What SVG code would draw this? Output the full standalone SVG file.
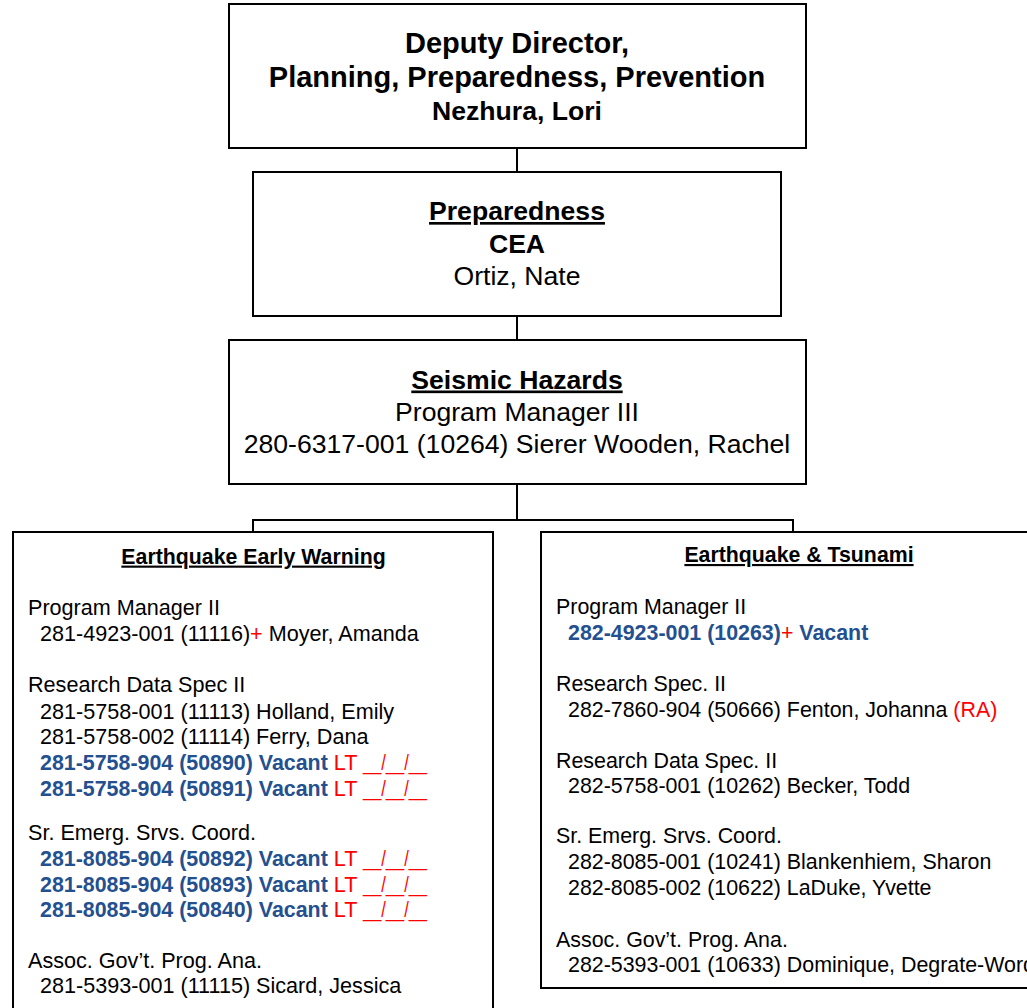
<svg xmlns="http://www.w3.org/2000/svg" width="1027" height="1008" viewBox="0 0 1027 1008">
<style>
  .box { fill: #ffffff; stroke: #000000; stroke-width: 2; }
  .conn { fill: none; stroke: #000000; stroke-width: 2; }
  text { font-family: "Liberation Sans", Arial, sans-serif; fill: #000000; }
  .big { font-size: 29px; font-weight: bold; text-anchor: middle; }
  .mid { font-size: 26.6px; text-anchor: middle; }
  .b { font-weight: bold; }
  .u { text-decoration: underline; }
  .sub { font-size: 21.6px; }
  .subr { font-size: 21.4px; }
  .title { font-size: 21.3px; font-weight: bold; text-decoration: underline; text-anchor: middle; }
  .blue { fill: #24508f; font-weight: bold; font-size: 21.4px; }
  .red { fill: #ff0000; font-weight: normal; }
</style>
<rect width="1027" height="1008" fill="#ffffff"/>
<g id="connectors">
  <line class="conn" x1="517" y1="148" x2="517" y2="172"/>
  <line class="conn" x1="517" y1="316" x2="517" y2="340"/>
  <line class="conn" x1="517" y1="484" x2="517" y2="520"/>
  <polyline class="conn" points="253,532 253,520 793,520 793,532"/>
</g>
<g id="node-deputy-director">
  <rect class="box" x="229" y="4" width="577" height="144"/>
  <text class="big" x="517" y="52.5">Deputy Director,</text>
  <text class="big" x="517" y="87">Planning, Preparedness, Prevention</text>
  <text class="mid b" x="517" y="120">Nezhura, Lori</text>
</g>
<g id="node-preparedness">
  <rect class="box" x="253" y="172" width="528" height="144"/>
  <text class="mid b u" x="517" y="220">Preparedness</text>
  <text class="mid b" x="517" y="252.5">CEA</text>
  <text class="mid" x="517" y="284.5">Ortiz, Nate</text>
</g>
<g id="node-seismic-hazards">
  <rect class="box" x="229" y="340" width="577" height="144"/>
  <text class="mid b u" x="517" y="388.5">Seismic Hazards</text>
  <text class="mid" x="517" y="420.5">Program Manager III</text>
  <text class="mid" x="517" y="452.5">280-6317-001 (10264) Sierer Wooden, Rachel</text>
</g>
<g id="node-earthquake-early-warning">
  <rect class="box" x="13" y="532" width="480" height="500"/>
  <text class="title" x="253.5" y="563.6">Earthquake Early Warning</text>
  <g class="sub">
    <text x="28" y="614.6">Program Manager II</text>
    <text x="40" y="640.6">281-4923-001 (11116)<tspan class="red">+</tspan> Moyer, Amanda</text>
    <text x="28" y="691.6">Research Data Spec II</text>
    <text x="40" y="718.6">281-5758-001 (11113) Holland, Emily</text>
    <text x="40" y="743.6">281-5758-002 (11114) Ferry, Dana</text>
    <text x="40" y="769.6"><tspan class="blue">281-5758-904 (50890) Vacant</tspan><tspan class="red"> LT </tspan><tspan class="red" textLength="64" lengthAdjust="spacingAndGlyphs">__/__/__</tspan></text>
    <text x="40" y="795.6"><tspan class="blue">281-5758-904 (50891) Vacant</tspan><tspan class="red"> LT </tspan><tspan class="red" textLength="64" lengthAdjust="spacingAndGlyphs">__/__/__</tspan></text>
    <text x="28" y="839.6">Sr. Emerg. Srvs. Coord.</text>
    <text x="40" y="865.6"><tspan class="blue">281-8085-904 (50892) Vacant</tspan><tspan class="red"> LT </tspan><tspan class="red" textLength="64" lengthAdjust="spacingAndGlyphs">__/__/__</tspan></text>
    <text x="40" y="891.6"><tspan class="blue">281-8085-904 (50893) Vacant</tspan><tspan class="red"> LT </tspan><tspan class="red" textLength="64" lengthAdjust="spacingAndGlyphs">__/__/__</tspan></text>
    <text x="40" y="916.6"><tspan class="blue">281-8085-904 (50840) Vacant</tspan><tspan class="red"> LT </tspan><tspan class="red" textLength="64" lengthAdjust="spacingAndGlyphs">__/__/__</tspan></text>
    <text x="28" y="967.6">Assoc. Gov’t. Prog. Ana.</text>
    <text x="40" y="992.6">281-5393-001 (11115) Sicard, Jessica</text>
  </g>
</g>
<g id="node-earthquake-tsunami">
  <rect class="box" x="541" y="532" width="520" height="456"/>
  <text class="title" x="799" y="562">Earthquake &amp; Tsunami</text>
  <g class="subr">
    <text x="556" y="613.6">Program Manager II</text>
    <text x="568" y="639.6"><tspan class="blue">282-4923-001 (10263)</tspan><tspan class="red" font-weight="bold">+</tspan><tspan class="blue"> Vacant</tspan></text>
    <text x="556" y="690.6">Research Spec. II</text>
    <text x="568" y="716.6">282-7860-904 (50666) Fenton, Johanna <tspan class="red">(RA)</tspan></text>
    <text x="556" y="767.6">Research Data Spec. II</text>
    <text x="568" y="792.6">282-5758-001 (10262) Becker, Todd</text>
    <text x="556" y="842.6">Sr. Emerg. Srvs. Coord.</text>
    <text x="568" y="868.6">282-8085-001 (10241) Blankenhiem, Sharon</text>
    <text x="568" y="894.6">282-8085-002 (10622) LaDuke, Yvette</text>
    <text x="556" y="946.6">Assoc. Gov’t. Prog. Ana.</text>
    <text x="568" y="971.6">282-5393-001 (10633) Dominique, Degrate-Word</text>
  </g>
</g>
</svg>
